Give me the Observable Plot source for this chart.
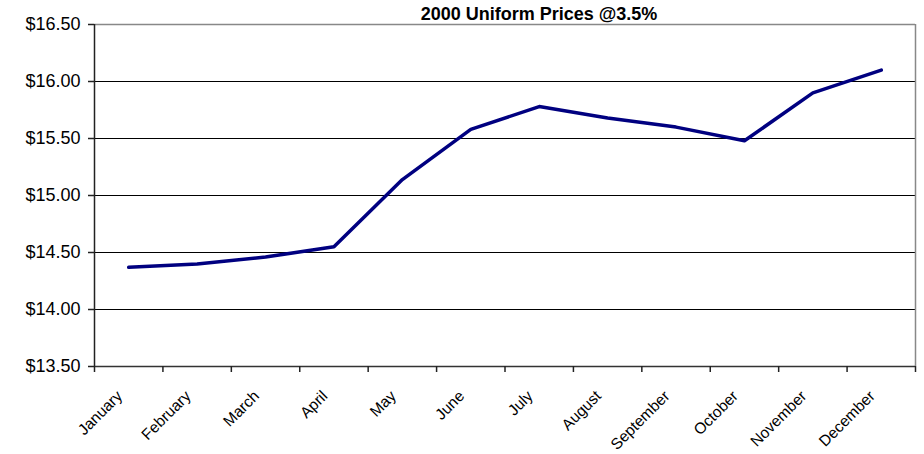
<!DOCTYPE html>
<html>
<head>
<meta charset="utf-8">
<script src="https://cdn.jsdelivr.net/npm/d3@7"></script>
<script src="https://cdn.jsdelivr.net/npm/@observablehq/plot@0.6"></script>
<style>
  body { margin: 0; background: #fff; }
  #wrap { position: relative; width: 924px; height: 454px; font-family: "Liberation Sans", Arial, sans-serif; }
  #title { position: absolute; left: 339px; width: 400px; top: 5px; text-align: center; font-size: 18px; line-height: 1; font-weight: bold; color: #000; }
</style>
</head>
<body>
<div id="wrap">
  <div id="chart"></div>
  <div id="title">2000 Uniform Prices @3.5%</div>
</div>
<script>
const months = ["January","February","March","April","May","June","July","August","September","October","November","December"];
const prices = [14.37, 14.40, 14.46, 14.55, 15.14, 15.58, 15.78, 15.68, 15.60, 15.48, 15.90, 16.10];
const yTicks = [13.5, 14.0, 14.5, 15.0, 15.5, 16.0, 16.5];
const yDomain = [13.5, 16.5];

const boundaries = d3.range(months.length + 1);
const rows = months.map((m, i) => ({month: m, pos: i + 0.5, price: prices[i]}));

const chart = Plot.plot({
  width: 924,
  height: 454,
  marginLeft: 94,
  marginRight: 9,
  marginTop: 24,
  marginBottom: 88,
  style: {fontFamily: '"Liberation Sans", Arial, sans-serif', background: "#fff", color: "#000"},
  x: {domain: [0, months.length], axis: null},
  y: {domain: yDomain, axis: null},
  marks: [
    Plot.ruleY(yTicks.slice(1, -1), {stroke: "#000", strokeWidth: 1}),
    Plot.ruleY([yDomain[1]], {stroke: "#888", strokeWidth: 1.5}),
    Plot.ruleX([months.length], {stroke: "#888", strokeWidth: 1.5}),
    Plot.ruleY([yDomain[0]], {stroke: "#333", strokeWidth: 1.5}),
    Plot.ruleX([0], {stroke: "#222", strokeWidth: 1.5}),
    Plot.axisY({ticks: yTicks, label: null, tickFormat: d => "$" + d.toFixed(2), tickSize: 6, tickPadding: 8, fontSize: 18, stroke: "#222", strokeOpacity: 1, strokeWidth: 1.5}),
    Plot.axisX({ticks: boundaries, label: null, tickFormat: () => "", tickSize: 6, stroke: "#222", strokeOpacity: 1, strokeWidth: 1.5}),
    Plot.text(rows, {x: "pos", y: () => yDomain[0], text: "month", rotate: -45, textAnchor: "end", fontSize: 15.5, dx: -9, dy: 27, fill: "#000"}),
    Plot.line(rows, {x: "pos", y: "price", stroke: "#000080", strokeWidth: 3.5, strokeLinejoin: "round"})
  ]
});
document.getElementById("chart").appendChild(chart);
</script>
</body>
</html>
